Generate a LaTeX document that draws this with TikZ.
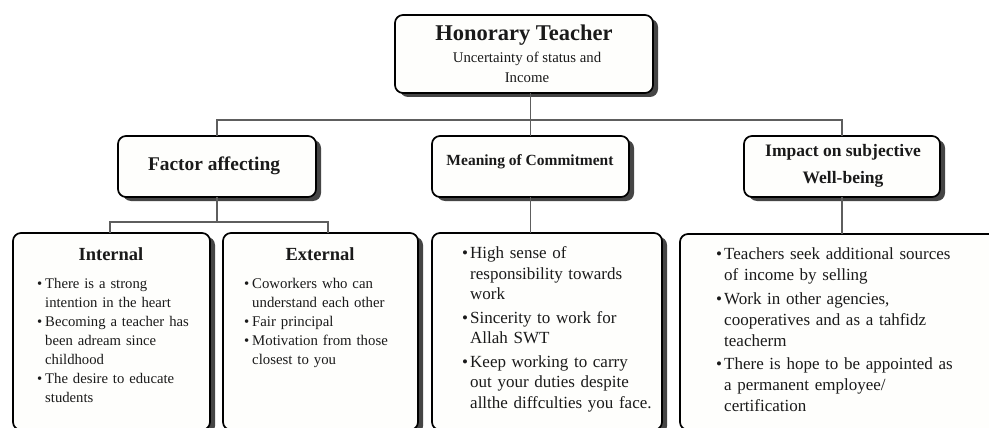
\documentclass[tikz,border=0pt]{standalone}
\usepackage{fontspec}
\setmainfont{Liberation Serif}
\usetikzlibrary{shadows}

% bullet item as one paragraph with a hanging indent; \newline breaks its lines
\newlength\bulletwd
\setlength\bulletwd{8pt}
\newcommand\bitem[1]{\par\hangindent=\bulletwd\hangafter=1\noindent
  \makebox[\bulletwd][l]{\textbullet}#1\par}

\definecolor{ink}{HTML}{1A1A1A}
\definecolor{wire}{HTML}{5E5E5E}
\definecolor{shade}{HTML}{454545}
\definecolor{paper}{HTML}{FEFEFC}

\tikzset{
  card/.style={draw=black, line width=1.7pt, rounded corners=8pt, fill=paper,
    inner sep=0pt, outer sep=0pt,
    drop shadow={shadow xshift=5pt, shadow yshift=-4pt, fill=shade, opacity=1}},
  link/.style={draw=wire, line width=1.3pt},
  label/.style={inner sep=0pt, text=ink},
  bullets/.style={inner sep=0pt, anchor=north west, align=left, text=ink, text width=#1},
}

\begin{document}
\begin{tikzpicture}[x=1pt, y=-1pt]
  \useasboundingbox (0,0) rectangle (989,428);
  \clip (0,0) rectangle (989,428);
  \fill[white] (0,0) rectangle (989,428);

  % boxes
  \node[card, minimum width=258pt, minimum height=78pt] (top) at (524,54) {};
  \node[card, minimum width=198pt, minimum height=61pt] (factor) at (217,166.5) {};
  \node[card, minimum width=197pt, minimum height=61pt] (meaning) at (530.5,166.5) {};
  \node[card, minimum width=196pt, minimum height=61pt] (impact) at (842,166.5) {};
  \node[card, minimum width=197pt, minimum height=197pt] (internal) at (111.5,331.5) {};
  \node[card, minimum width=195pt, minimum height=197pt] (external) at (320.5,331.5) {};
  \node[card, minimum width=230pt, minimum height=197pt] (meaningc) at (547,331.5) {};
  \node[card, minimum width=320pt, minimum height=196pt] (impactc) at (840,332) {};

  % connectors
  \coordinate (bus) at (0,120);
  \coordinate (jL) at (110,222);
  \coordinate (jR) at (328,222);
  \draw[link] (top.south -| meaning.north) -- (meaning.north);
  \draw[link] (factor.north) -- (factor.north |- bus) -- (impact.north |- bus) -- (impact.north);
  \draw[link] (factor.south) -- (factor.south |- jL);
  \draw[link] (jL |- internal.north) -- (jL) -- (jR) -- (jR |- external.north);
  \draw[link] (meaning.south) -- (meaning.south |- meaningc.north);
  \draw[link] (impact.south) -- (impact.south |- impactc.north);

  % headings
  \node[label, anchor=base, font=\fontsize{22.5}{26}\bfseries\selectfont] (ttl) at (524,41) {Honorary Teacher};
  \node[label, anchor=north, align=center, font=\fontsize{14.8}{20}\selectfont] (sub) at (527,52) {Uncertainty of status and\\Income};
  \node[label, anchor=base, font=\fontsize{19.4}{23}\bfseries\selectfont] (factorT) at (214,170) {Factor affecting};
  \node[label, anchor=base, font=\fontsize{15.5}{19}\bfseries\selectfont] (meaningT) at (530,165) {Meaning of Commitment};
  \node[label, anchor=north, align=center, font=\fontsize{17.5}{27}\bfseries\selectfont] (impactT) at (843,144.5) {Impact on subjective\\Well-being};
  \node[label, anchor=base, font=\fontsize{18.5}{22}\bfseries\selectfont] (internalT) at (111,260) {Internal};
  \node[label, anchor=base, font=\fontsize{18.5}{22}\bfseries\selectfont] (externalT) at (320,260) {External};

  % bullet lists
  \node[bullets=180pt, font=\fontsize{14.7}{19}\selectfont] (internalL) at (37,269) {%
    \bitem{There is a strong\newline intention in the heart}%
    \bitem{Becoming a teacher has\newline been adream since\newline childhood}%
    \bitem{The desire to educate\newline students}};
  \node[bullets=180pt, font=\fontsize{14.8}{19}\selectfont] (externalL) at (244,269) {%
    \bitem{Coworkers who can\newline understand each other}%
    \bitem{Fair principal}%
    \bitem{Motivation from those\newline closest to you}};
  \node[bullets=220pt, font=\fontsize{17}{20.5}\selectfont\setlength\parskip{3pt}] (meaningL) at (462,235) {%
    \bitem{High sense of\newline responsibility towards\newline work}%
    \bitem{Sincerity to work for\newline Allah SWT}%
    \bitem{Keep working to carry\newline out your duties despite\newline allthe diffculties you face.}};
  \node[bullets=270pt, font=\fontsize{17}{21}\selectfont\setlength\parskip{2.5pt}] (impactL) at (716,236) {%
    \bitem{Teachers seek additional sources\newline of income by selling}%
    \bitem{Work in other agencies,\newline cooperatives and as a tahfidz\newline teacherm}%
    \bitem{There is hope to be appointed as\newline a permanent employee/\newline certification}};
\end{tikzpicture}
\end{document}
